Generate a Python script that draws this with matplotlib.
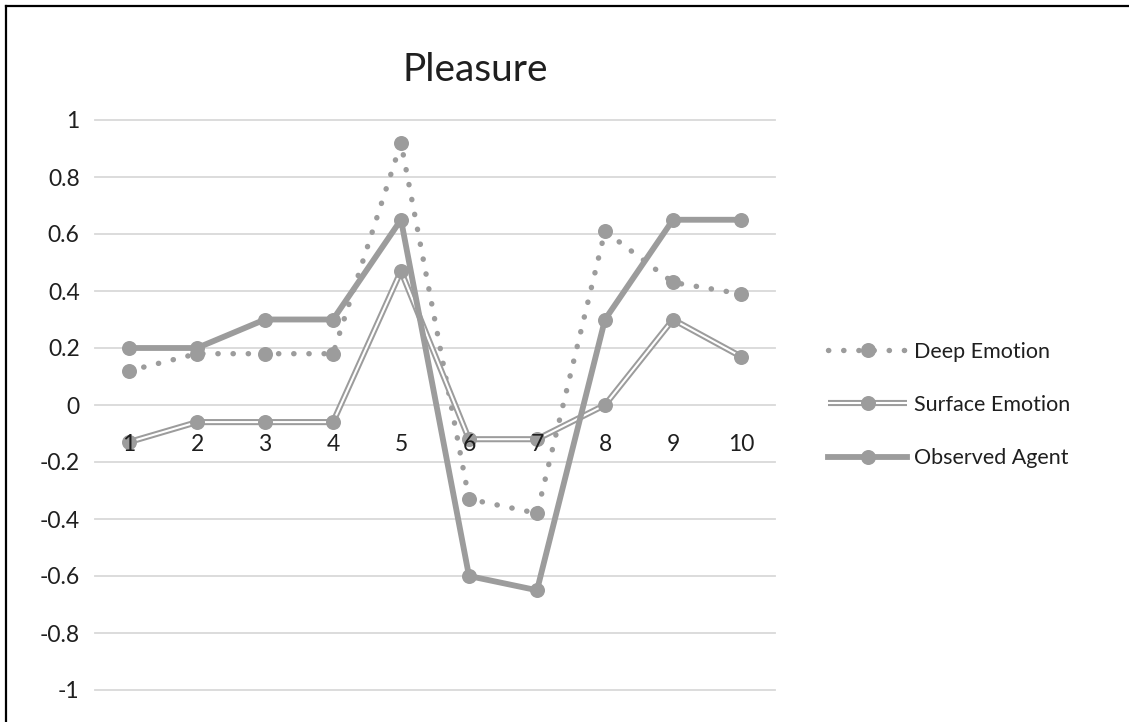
import matplotlib
matplotlib.use("Agg")
import matplotlib.pyplot as plt
from matplotlib.lines import Line2D

plt.rcParams['font.family'] = ['Lato', 'DejaVu Sans']

# Pleasure values per step
steps = [1, 2, 3, 4, 5, 6, 7, 8, 9, 10]
deep_emotion = [0.12, 0.18, 0.18, 0.18, 0.92, -0.33, -0.38, 0.61, 0.43, 0.39]
surface_emotion = [-0.13, -0.06, -0.06, -0.06, 0.47, -0.12, -0.12, 0.0, 0.30, 0.17]
observed_agent = [0.20, 0.20, 0.30, 0.30, 0.65, -0.60, -0.65, 0.30, 0.65, 0.65]
y_ticks = [1, 0.8, 0.6, 0.4, 0.2, 0, -0.2, -0.4, -0.6, -0.8, -1]

gray = '#9c9c9c'
text_col = '#1f1f1f'
fs = 16.5

fig = plt.figure(figsize=(11.29, 7.22), dpi=100)
ax = fig.add_axes([95 / 1129, 1 - 690 / 722, 680 / 1129, 570 / 722])

ax.set_xlim(0.5, 10.5)
ax.set_ylim(-1, 1)

for v in y_ticks:
    ax.axhline(v, color='#d9d9d9', lw=1.3, zorder=0, clip_on=False)

# dotted line with round dots
deep_line, = ax.plot(steps, deep_emotion, color=gray, lw=3.9,
                     linestyle=(0, (0.05, 2.75)), dash_capstyle='round',
                     marker='o', markersize=10.8, markeredgewidth=0, zorder=2)

# double line: wide gray stroke with a thin white core
surf_outer, = ax.plot(steps, surface_emotion, color=gray, lw=4.4,
                      solid_capstyle='butt', zorder=3)
surf_inner, = ax.plot(steps, surface_emotion, color='white', lw=1.5,
                      solid_capstyle='butt', zorder=3)
surf_marks, = ax.plot(steps, surface_emotion, color=gray, lw=0,
                      marker='o', markersize=10.8, markeredgewidth=0, zorder=3)

obs_line, = ax.plot(steps, observed_agent, color=gray, lw=4.2,
                    marker='o', markersize=10.8, markeredgewidth=0, zorder=4)

for s in ax.spines.values():
    s.set_visible(False)
ax.spines['bottom'].set_position(('data', 0))
ax.set_xticks(steps)
ax.set_xticklabels([str(s) for s in steps])
ax.set_yticks(y_ticks)
ax.set_yticklabels([('%g' % v) for v in y_ticks])
ax.tick_params(axis='x', length=0, pad=21, labelsize=fs, labelcolor=text_col)
ax.tick_params(axis='y', length=0, pad=11, labelsize=fs, labelcolor=text_col)
ax.xaxis.set_zorder(5)

fig.text(475 / 1129, 1 - 70 / 722, 'Pleasure', ha='center', va='center',
         fontsize=28, color=text_col)

ax.legend([deep_line, (surf_outer, surf_inner, surf_marks), obs_line],
          ['Deep Emotion', 'Surface Emotion', 'Observed Agent'],
          loc='center left', bbox_to_anchor=(817 / 1129, 1 - 405 / 722),
          bbox_transform=fig.transFigure, frameon=False, fontsize=15.5,
          labelcolor=text_col, handlelength=3.7, handletextpad=0.3,
          labelspacing=1.55, borderpad=0)

# chart frame (left and top edges)
fig.add_artist(Line2D([6 / 1129, 6 / 1129], [0, 1 - 6 / 722],
                      transform=fig.transFigure, color='black', lw=1.6))
fig.add_artist(Line2D([6 / 1129, 1], [1 - 6 / 722, 1 - 6 / 722],
                      transform=fig.transFigure, color='black', lw=1.6))

fig.savefig('out.png', dpi=100)
